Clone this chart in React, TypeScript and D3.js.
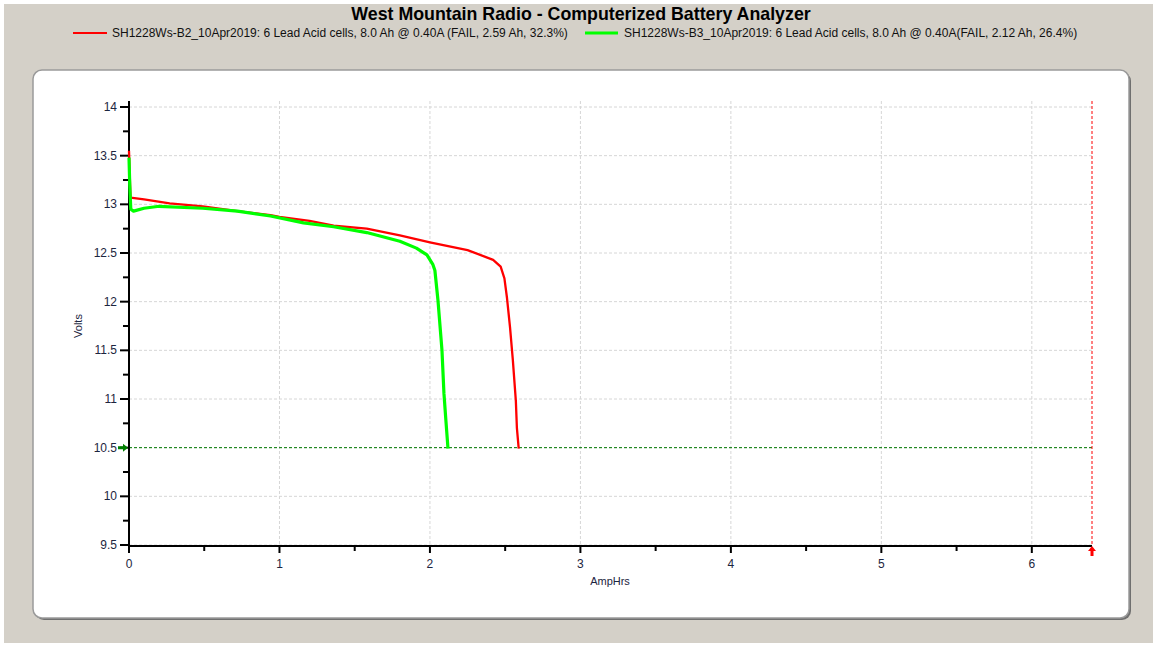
import React from "react";
import * as d3 from "d3";

const TITLE = "West Mountain Radio - Computerized Battery Analyzer";
const LEGEND_RED = "SH1228Ws-B2_10Apr2019: 6 Lead Acid cells, 8.0 Ah @ 0.40A (FAIL, 2.59 Ah, 32.3%)";
const LEGEND_GREEN = "SH1228Ws-B3_10Apr2019: 6 Lead Acid cells, 8.0 Ah @ 0.40A(FAIL, 2.12 Ah, 26.4%)";

const xMajorTicks = [0, 1, 2, 3, 4, 5, 6];
const yMajorTicks = [9.5, 10, 10.5, 11, 11.5, 12, 12.5, 13, 13.5, 14];
const cutoffVolts = 10.5;
const maxAmpHrs = 6.4;

const redAh = [0, 0.005, 0.01, 0.1, 0.27, 0.49, 0.72, 0.94, 1.0, 1.2, 1.36, 1.58, 1.8, 2.0, 2.25, 2.42, 2.47, 2.495, 2.512, 2.532, 2.551, 2.571, 2.578, 2.59];
const redV = [13.55, 13.3, 13.07, 13.05, 13.01, 12.98, 12.93, 12.89, 12.87, 12.83, 12.78, 12.75, 12.68, 12.61, 12.53, 12.43, 12.36, 12.24, 12.04, 11.74, 11.4, 10.98, 10.7, 10.49];

const greenAh = [0, 0.005, 0.012, 0.03, 0.1, 0.2, 0.49, 0.72, 0.94, 1.16, 1.36, 1.58, 1.8, 1.91, 1.98, 2.02, 2.033, 2.053, 2.08, 2.093, 2.106, 2.12];
const greenV = [13.48, 13.2, 12.95, 12.93, 12.96, 12.98, 12.96, 12.93, 12.88, 12.81, 12.77, 12.71, 12.62, 12.55, 12.48, 12.38, 12.32, 12.02, 11.5, 11.06, 10.78, 10.49];

export default function App() {
  const W = 1157, H = 647;
  const x = d3.scaleLinear().domain([0, maxAmpHrs]).range([129, 1092]);
  const y = d3.scaleLinear().domain([9.5, 14]).range([545, 107]);
  const plotTop = 101;
  const line = d3.line<[number, number]>().x(d => x(d[0])).y(d => y(d[1]));
  const redPts = redAh.map((a, i) => [a, redV[i]] as [number, number]);
  const greenPts = greenAh.map((a, i) => [a, greenV[i]] as [number, number]);
  const xMinor = d3.range(0.5, maxAmpHrs, 1);
  const yMinor = d3.range(9.75, 14, 0.5);
  const font = "'Liberation Sans', Arial, sans-serif";
  const tickColor = "#1c2540";
  const x0 = x(0), yb = y(9.5);

  return (
    <svg width={W} height={H} style={{ display: "block", position: "absolute", left: 0, top: 0 }} fontFamily={font}>
      <rect x={0} y={0} width={W} height={H} fill="#ffffff" />
      <rect x={4} y={4} width={W - 8} height={H - 8} fill="#d4d0c8" />
      <text x={581} y={19.5} textAnchor="middle" fontSize={17.8} fontWeight="bold" fill="#000">{TITLE}</text>
      <line x1={73} x2={107} y1={33} y2={33} stroke="#ff0000" strokeWidth={2} />
      <text x={112} y={37} fontSize={12} fill="#111">{LEGEND_RED}</text>
      <line x1={585} x2={618} y1={33} y2={33} stroke="#00ff00" strokeWidth={3} />
      <text x={624} y={37} fontSize={12} fill="#111">{LEGEND_GREEN}</text>

      {/* card */}
      <rect x={35} y={72} width={1096} height={548} rx={9} fill="#6f6f6f" />
      <rect x={33} y={70} width={1096} height={548} rx={9} fill="#ffffff" stroke="#9a9a9a" strokeWidth={1.5} />

      {/* grid */}
      {xMajorTicks.filter(t => t > 0).map(t => (
        <line key={"gx" + t} x1={x(t)} x2={x(t)} y1={plotTop} y2={yb} stroke="#d6d6d6" strokeDasharray="3,2" />
      ))}
      {yMajorTicks.map(t => (
        <line key={"gy" + t} x1={x0} x2={x(maxAmpHrs)} y1={y(t)} y2={y(t)} stroke="#d6d6d6" strokeDasharray="3,2" />
      ))}

      {/* cutoff line */}
      <line x1={x0} x2={x(maxAmpHrs)} y1={y(cutoffVolts)} y2={y(cutoffVolts)} stroke="#007a00" strokeDasharray="3,2" strokeWidth={1} />
      <line x1={x(maxAmpHrs)} x2={x(maxAmpHrs)} y1={plotTop} y2={yb} stroke="#ff0000" strokeDasharray="3,2" strokeWidth={1} />

      {/* axes */}
      <line x1={x0} x2={x0} y1={plotTop} y2={yb + 1} stroke="#000" strokeWidth={2} />
      <line x1={x0 - 1} x2={x(maxAmpHrs)} y1={yb + 1} y2={yb + 1} stroke="#000" strokeWidth={2} />
      {yMajorTicks.map(t => (
        <g key={"yt" + t}>
          <line x1={x0 - 9} x2={x0} y1={y(t)} y2={y(t)} stroke="#000" strokeWidth={2} />
          <text x={x0 - 12} y={y(t) + 4} textAnchor="end" fontSize={12} fill={tickColor}>{t}</text>
        </g>
      ))}
      {yMinor.map(t => (
        <line key={"ym" + t} x1={x0 - 6} x2={x0} y1={y(t)} y2={y(t)} stroke="#000" strokeWidth={2} />
      ))}
      {xMajorTicks.map(t => (
        <g key={"xt" + t}>
          <line x1={x(t)} x2={x(t)} y1={yb + 1} y2={yb + 8} stroke="#000" strokeWidth={2} />
          <text x={x(t)} y={yb + 23} textAnchor="middle" fontSize={12} fill={tickColor}>{t}</text>
        </g>
      ))}
      {xMinor.map(t => (
        <line key={"xm" + t} x1={x(t)} x2={x(t)} y1={yb + 1} y2={yb + 6} stroke="#000" strokeWidth={2} />
      ))}
      <text x={610} y={585} textAnchor="middle" fontSize={11} fill={tickColor}>AmpHrs</text>
      <text transform={`translate(82,${y(11.75)}) rotate(-90)`} textAnchor="middle" fontSize={11} fill={tickColor}>Volts</text>

      {/* markers */}
      <path d={`M${x0 - 11},${y(cutoffVolts) - 1.5} h5 v-2.5 l5,4 l-5,4 v-2.5 h-5 z`} fill="#008000" />
      <path d={`M${x(maxAmpHrs) - 1.5},${yb + 11} v-5 h-2.5 l4,-5 l4,5 h-2.5 v5 z`} fill="#ff0000" />

      {/* series */}
      <path d={line(redPts) || ""} fill="none" stroke="#ff0000" strokeWidth={2.3} strokeLinejoin="round" />
      <path d={line(greenPts) || ""} fill="none" stroke="#00ff00" strokeWidth={3.2} strokeLinejoin="round" />
    </svg>
  );
}
